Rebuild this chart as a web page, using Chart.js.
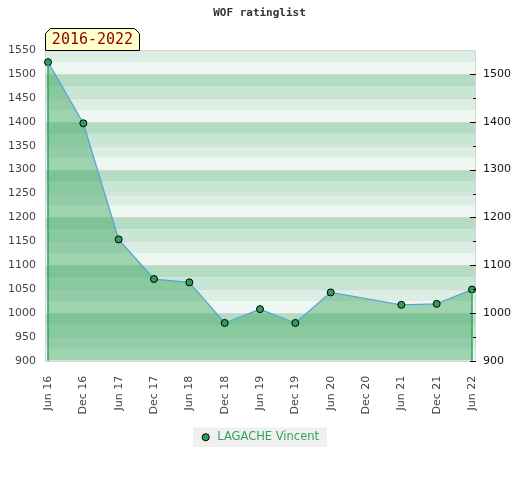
<!DOCTYPE html>
<html>
<head>
<meta charset="utf-8">
<script src="https://cdn.jsdelivr.net/npm/chart.js@4.4.1/dist/chart.umd.min.js"></script>
<style>
html, body { margin: 0; padding: 0; background: #fff; }
#wrap { width: 520px; height: 480px; }
</style>
</head>
<body>
<div id="wrap"><canvas id="rating"></canvas></div>
<script>
// dados
const periodos = ['Jun 16', 'Dec 16', 'Jun 17', 'Dec 17', 'Jun 18', 'Dec 18', 'Jun 19',
                  'Dec 19', 'Jun 20', 'Dec 20', 'Jun 21', 'Dec 21', 'Jun 22'];
const rating = [1525, 1397, 1154, 1071, 1064, 979, 1008, 979, 1043, null, 1017, 1019, 1049];
const ticksEsquerda = [900, 950, 1000, 1050, 1100, 1150, 1200, 1250, 1300, 1350, 1400, 1450, 1500, 1550];
const ticksDireita = [900, 1000, 1100, 1200, 1300, 1400, 1500];
const jogador = 'LAGACHE Vincent';
const intervalo = '2016-2022';

const usarTicks = lista => scale => { scale.ticks = lista.map(v => ({ value: v })); };
const semSeparador = v => String(v);

// fundo listrado, grade e caixa da legenda
const fundo = {
    id: 'fundo',
    beforeDraw(chart) {
        const { ctx, chartArea: a, scales: { y } } = chart;
        ctx.save();

        const box = chart.legend.legendHitBoxes[0];
        if (box) {
            ctx.fillStyle = '#f0f0f0';
            ctx.fillRect(box.left - 7, box.top - 4, box.width + 15, box.height + 8);
        }

        const cores = ['#eef7f1', '#dcede3', '#c8e6d4', '#b3dcc3'];
        for (let v = y.min; v < y.max; v += 25) {
            const topo = y.getPixelForValue(Math.min(v + 25, y.max));
            const base = y.getPixelForValue(v);
            ctx.fillStyle = cores[((v - y.min) / 25) % 4];
            ctx.fillRect(a.left - 3, topo, a.width + 6, base - topo);
        }

        ctx.strokeStyle = '#d6d6d6';
        ctx.lineWidth = 1;
        y.ticks.forEach(t => {
            const py = Math.round(y.getPixelForValue(t.value)) + 0.5;
            ctx.beginPath();
            ctx.moveTo(a.left - 3, py);
            ctx.lineTo(a.right + 3, py);
            ctx.stroke();
        });
        ctx.strokeRect(Math.round(a.left - 3) + 0.5, Math.round(a.top) + 0.5,
                       Math.round(a.width + 6), Math.round(a.height));
        ctx.restore();
    },
    afterDatasetsDraw(chart) {
        const { ctx, chartArea: a } = chart;
        const pts = chart.getDatasetMeta(0).data.filter(p => !p.skip);
        ctx.save();
        ctx.strokeStyle = '#2fa35a';
        ctx.lineWidth = 1.5;
        [pts[0], pts[pts.length - 1]].forEach(p => {
            ctx.beginPath();
            ctx.moveTo(p.x, p.y);
            ctx.lineTo(p.x, a.bottom);
            ctx.stroke();
        });
        ctx.restore();
    },
    afterDraw(chart) {
        const { ctx, chartArea: a, scales: { y2 } } = chart;
        ctx.save();

        // marcas do eixo direito
        ctx.strokeStyle = '#000';
        ctx.lineWidth = 1;
        y2.ticks.forEach((t, i) => {
            const py = Math.round(y2.getPixelForValue(t.value)) + 0.5;
            ctx.beginPath();
            ctx.moveTo(a.right - 2, py);
            ctx.lineTo(a.right + 4, py);
            ctx.stroke();
            if (i < y2.ticks.length - 1) {
                const pm = Math.round(y2.getPixelForValue(t.value + 50)) + 0.5;
                ctx.beginPath();
                ctx.moveTo(a.right + 1, pm);
                ctx.lineTo(a.right + 4, pm);
                ctx.stroke();
            }
        });

        // etiqueta do periodo
        const x0 = Math.round(a.left - 3) + 0.5, x1 = x0 + 94;
        const y1 = Math.round(a.top) + 0.5, y0 = y1 - 22;
        ctx.beginPath();
        ctx.moveTo(x0, y1);
        ctx.lineTo(x0, y0 + 5);
        ctx.lineTo(x0 + 5, y0);
        ctx.lineTo(x1 - 5, y0);
        ctx.lineTo(x1, y0 + 5);
        ctx.lineTo(x1, y1);
        ctx.closePath();
        ctx.fillStyle = '#ffffcc';
        ctx.fill();
        ctx.strokeStyle = '#000';
        ctx.stroke();
        ctx.fillStyle = '#8b0000';
        ctx.font = '15px "DejaVu Sans Mono"';
        ctx.textAlign = 'center';
        ctx.textBaseline = 'middle';
        ctx.fillText(intervalo, (x0 + x1) / 2, (y0 + y1) / 2 + 1);
        ctx.restore();
    }
};

// grafico
const Rating = document.getElementById('rating');

new Chart(Rating, {
    type: 'line',
    data: {
        labels: periodos,
        datasets: [{
            label: jogador,
            data: rating,
            spanGaps: true,
            fill: 'start',
            tension: 0,
            borderColor: '#5aa5d8',
            borderWidth: 1.3,
            backgroundColor: 'rgba(57, 167, 93, 0.45)',
            pointRadius: 3.5,
            pointHoverRadius: 3.5,
            pointBackgroundColor: '#2f9e5b',
            pointBorderColor: '#000',
            pointBorderWidth: 1
        }]
    },
    options: {
        responsive: true,
        maintainAspectRatio: false,
        animation: false,
        layout: { padding: { left: 8, right: 9, top: 0, bottom: 27 } },
        scales: {
            x: {
                offset: false,
                afterFit(s) { s.paddingLeft = 0; s.paddingRight = 0; },
                grid: { display: false },
                border: { display: false },
                ticks: {
                    autoSkip: false,
                    minRotation: 90,
                    maxRotation: 90,
                    padding: 7,
                    color: '#444',
                    font: { family: 'DejaVu Sans', size: 11 }
                }
            },
            y: {
                min: 900,
                max: 1550,
                afterBuildTicks: usarTicks(ticksEsquerda),
                afterFit(s) { s.width = 40; },
                grid: { display: false, drawTicks: false },
                border: { display: false },
                ticks: { padding: 12, color: '#444', callback: semSeparador,
                         font: { family: 'DejaVu Sans', size: 11 } }
            },
            y2: {
                position: 'right',
                min: 900,
                max: 1550,
                afterBuildTicks: usarTicks(ticksDireita),
                afterFit(s) { s.width = 39; },
                grid: { drawOnChartArea: false, tickLength: 8, color: 'rgba(0,0,0,0)' },
                border: { display: false },
                ticks: { padding: 3, color: '#111', callback: semSeparador,
                         font: { family: 'DejaVu Sans', size: 11 } }
            }
        },
        plugins: {
            title: {
                display: true,
                text: 'WOF ratinglist',
                color: '#333',
                font: { family: 'DejaVu Sans Mono', size: 11, weight: 'bold' },
                padding: { top: 7, bottom: 30 }
            },
            legend: {
                position: 'bottom',
                labels: {
                    usePointStyle: true,
                    pointStyle: 'circle',
                    boxHeight: 5,
                    color: '#33a35d',
                    font: { family: 'DejaVu Sans', size: 11.5 },
                    padding: 10
                }
            },
            tooltip: { enabled: false }
        }
    },
    plugins: [fundo]
});
</script>
</body>
</html>
